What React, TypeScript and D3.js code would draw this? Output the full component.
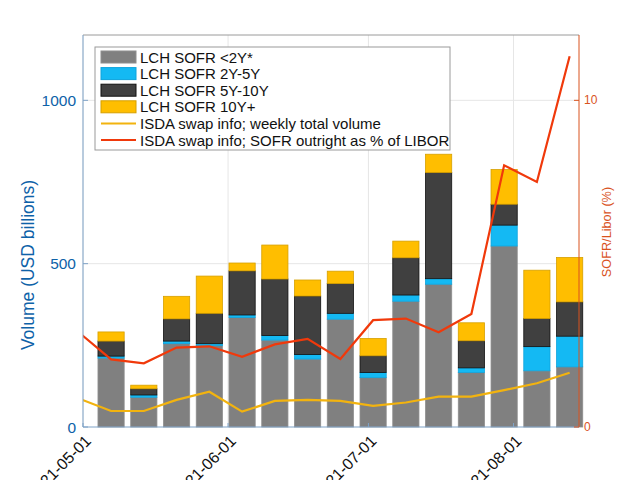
import * as d3 from "d3";

const MARGIN = { top: 35, right: 61, bottom: 53, left: 83 };
const WIDTH = 640;
const HEIGHT = 480;

// LCH weekly cleared SOFR volume by tenor bucket (USD billions), week ending Friday
const lchWeeks = [
  "2021-05-07", "2021-05-14", "2021-05-21", "2021-05-28", "2021-06-04",
  "2021-06-11", "2021-06-18", "2021-06-25", "2021-07-02", "2021-07-09",
  "2021-07-16", "2021-07-23", "2021-07-30", "2021-08-06", "2021-08-13",
];
const lchLt2 = [211, 91, 255, 249, 335, 266, 208, 330, 151, 385, 437, 167, 554, 172, 184];
const lch2to5 = [6, 7, 8, 6, 8, 14, 14, 18, 16, 19, 17, 14, 64, 74, 94];
const lch5to10 = [46, 19, 68, 93, 135, 173, 179, 91, 51, 114, 325, 83, 64, 86, 105];
const lch10plus = [28, 11, 69, 114, 24, 104, 49, 38, 53, 51, 56, 55, 106, 148, 136];

// ISDA swap info series
const isdaWeeks = [
  "2021-04-30", "2021-05-07", "2021-05-14", "2021-05-21", "2021-05-28",
  "2021-06-04", "2021-06-11", "2021-06-18", "2021-06-25", "2021-07-02",
  "2021-07-09", "2021-07-16", "2021-07-23", "2021-07-30", "2021-08-06",
  "2021-08-13",
];
const isdaVolume = [88, 49, 49, 83, 108, 47, 80, 83, 80, 65, 75, 93, 93, 113, 134, 166];
const sofrPctLibor = [2.91, 2.07, 1.95, 2.43, 2.47, 2.15, 2.53, 2.7, 2.08, 3.27, 3.32, 2.9, 3.46, 8.01, 7.5, 11.35];

const xTicks = ["2021-05-01", "2021-06-01", "2021-07-01", "2021-08-01"];
const leftTicks = [0, 500, 1000];
const rightTicks = [0, 10];

const SERIES = [
  { name: "LCH SOFR <2Y*", values: lchLt2, fill: "#808080", stroke: "#8e8e8e" },
  { name: "LCH SOFR 2Y-5Y", values: lch2to5, fill: "#14B9F3", stroke: "#0ea3dc" },
  { name: "LCH SOFR 5Y-10Y", values: lch5to10, fill: "#404040", stroke: "#111111" },
  { name: "LCH SOFR 10Y+", values: lch10plus, fill: "#FFBE00", stroke: "#D6A000" },
];

const LEFT_COLOR = "#0E62A8";
const RIGHT_COLOR = "#D9531E";
const RED = "#F0390B";
const YELLOW = "#F2B30F";
const FONT = "'Liberation Sans', Arial, Helvetica, sans-serif";

const parse = d3.timeParse("%Y-%m-%d");

export default function App() {
  const x0 = MARGIN.left;
  const x1 = WIDTH - MARGIN.right;
  const y0 = HEIGHT - MARGIN.bottom;
  const y1 = MARGIN.top;

  const xScale = d3
    .scaleTime()
    .domain([parse("2021-05-01")!, parse("2021-08-15")!])
    .range([x0, x1]);
  const yLeft = d3.scaleLinear().domain([0, 1200]).range([y0, y1]);
  const yRight = d3.scaleLinear().domain([0, 12]).range([y0, y1]);

  const weekPx = xScale(parse("2021-05-08")!) - xScale(parse("2021-05-01")!);
  const barW = weekPx * 0.8;

  // stacked bars
  const stackData = lchWeeks.map((d, i) => {
    const row: any = { date: parse(d) };
    SERIES.forEach((s) => (row[s.name] = s.values[i]));
    return row;
  });
  const stacked = d3.stack().keys(SERIES.map((s) => s.name))(stackData);

  const bars = stacked.map((layer, li) =>
    layer.map((seg, i) => (
      <rect
        key={`${li}-${i}`}
        x={xScale(stackData[i].date) - barW / 2}
        y={yLeft(seg[1])}
        width={barW}
        height={yLeft(seg[0]) - yLeft(seg[1])}
        fill={SERIES[li].fill}
        stroke={SERIES[li].stroke}
        strokeWidth={0.8}
      />
    ))
  );

  const volLine = d3
    .line<number>()
    .x((_, i) => xScale(parse(isdaWeeks[i])!))
    .y((d) => yLeft(d))(isdaVolume);
  const pctLine = d3
    .line<number>()
    .x((_, i) => xScale(parse(isdaWeeks[i])!))
    .y((d) => yRight(d))(sofrPctLibor);

  const legendRows = [
    ...SERIES.map((s) => ({ name: s.name, kind: "box", fill: s.fill, stroke: s.stroke })),
    { name: "ISDA swap info; weekly total volume", kind: "line", fill: YELLOW, stroke: YELLOW },
    { name: "ISDA swap info; SOFR outright as % of LIBOR", kind: "line", fill: RED, stroke: RED },
  ];

  return (
    <svg
      width={WIDTH}
      height={HEIGHT}
      style={{ position: "absolute", left: 0, top: 0, background: "#fff" }}
      fontFamily={FONT}
    >
      <defs>
        <clipPath id="plot">
          <rect x={x0} y={y1} width={x1 - x0} height={y0 - y1} />
        </clipPath>
      </defs>

      {/* grid */}
      {xTicks.map((t) => (
        <line
          key={t}
          x1={xScale(parse(t)!)}
          x2={xScale(parse(t)!)}
          y1={y1}
          y2={y0}
          stroke="#e6e6e6"
        />
      ))}
      {leftTicks.slice(1).map((t) => (
        <line key={t} x1={x0} x2={x1} y1={yLeft(t)} y2={yLeft(t)} stroke="#e6e6e6" />
      ))}

      {bars}

      <g clipPath="url(#plot)" fill="none" strokeWidth={2.2} strokeLinejoin="miter">
        <path d={volLine!} stroke={YELLOW} />
        <path d={pctLine!} stroke={RED} />
      </g>

      {/* axes frame */}
      <line x1={x0} x2={x1} y1={y1} y2={y1} stroke="#9a9a9a" />
      <line x1={x0} x2={x1} y1={y0} y2={y0} stroke="#7FA3C8" />
      <line x1={x0} x2={x0} y1={y1} y2={y0} stroke="#7FA3C8" />
      <line x1={x1} x2={x1} y1={y1} y2={y0} stroke={RIGHT_COLOR} />

      {/* left axis */}
      {leftTicks.map((t) => (
        <g key={t}>
          <line x1={x0} x2={x0 + 5} y1={yLeft(t)} y2={yLeft(t)} stroke="#7FA3C8" />
          <text
            x={x0 - 7}
            y={yLeft(t)}
            textAnchor="end"
            dominantBaseline="central"
            fontSize={15.5}
            fill={LEFT_COLOR}
          >
            {t}
          </text>
        </g>
      ))}
      <text
        transform={`translate(34,${(y0 + y1) / 2 + 34}) rotate(-90)`}
        textAnchor="middle"
        fontSize={17.5}
        fill={LEFT_COLOR}
      >
        Volume (USD billions)
      </text>

      {/* right axis */}
      {rightTicks.map((t) => (
        <g key={t}>
          <line x1={x1 - 5} x2={x1} y1={yRight(t)} y2={yRight(t)} stroke={RIGHT_COLOR} />
          <text
            x={x1 + 5}
            y={yRight(t)}
            dominantBaseline="central"
            fontSize={12}
            fill={RIGHT_COLOR}
          >
            {t}
          </text>
        </g>
      ))}
      <text
        transform={`translate(611,232) rotate(-90)`}
        textAnchor="middle"
        fontSize={12.7}
        fill={RIGHT_COLOR}
      >
        SOFR/Libor (%)
      </text>

      {/* x axis */}
      {xTicks.map((t) => {
        const xp = xScale(parse(t)!);
        return (
          <g key={t}>
            <line x1={xp} x2={xp} y1={y0} y2={y0 - 4} stroke="#7FA3C8" />
            <text
              transform={`translate(${xp + 9},${y0 + 15}) rotate(-45)`}
              textAnchor="end"
              fontSize={16}
              fill="#111"
            >
              {t}
            </text>
          </g>
        );
      })}

      {/* legend */}
      <g>
        <rect x={95} y={47} width={355} height={103} fill="#fff" stroke="#9a9a9a" />
        {legendRows.map((r, i) => {
          const cy = 57 + i * 16.6;
          return (
            <g key={r.name}>
              {r.kind === "box" ? (
                <rect x={101} y={cy - 6} width={35} height={12} fill={r.fill} stroke={r.stroke} />
              ) : (
                <line x1={101} x2={136} y1={cy} y2={cy} stroke={r.stroke} strokeWidth={2} />
              )}
              <text x={140} y={cy} dominantBaseline="central" fontSize={15} fill="#111">
                {r.name}
              </text>
            </g>
          );
        })}
      </g>
    </svg>
  );
}
